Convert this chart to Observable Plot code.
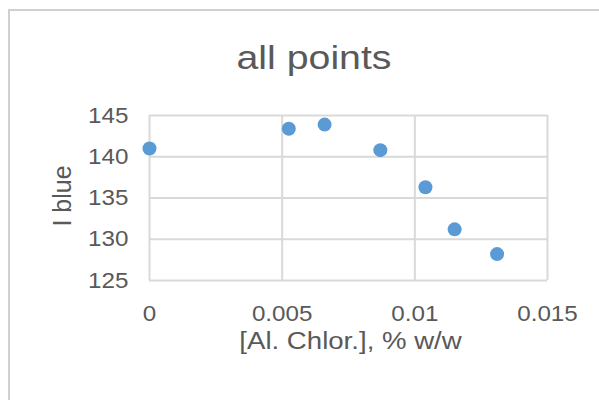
<!DOCTYPE html>
<html>
<head>
<meta charset="utf-8">
<script src="https://cdn.jsdelivr.net/npm/d3@7"></script>
<script src="https://cdn.jsdelivr.net/npm/@observablehq/plot@0.6"></script>
<style>
  body { margin: 0; background: #fff; }
  #chart { position: relative; width: 599px; height: 400px; overflow: hidden;
           font-family: "Liberation Sans", Arial, sans-serif; color: #595959; }
  #frame { position: absolute; left: 8px; top: 9px; width: 620px; height: 420px; z-index: 2;
           pointer-events: none; border-left: 2px solid #d0d0d0; border-top: 2px solid #d0d0d0; }
  #title { position: relative; height: 80px; }
  #title span { position: absolute; left: 313.5px; top: 41px; font-size: 33px; line-height: 33px;
                white-space: nowrap; transform: translateX(-50%) scaleX(1.19); }
</style>
</head>
<body>
<div id="chart">
  <div id="frame"></div>
  <div id="title"><span>all points</span></div>
</div>
<script>
// Aluminium chloride concentration (% w/w) against blue intensity
const concentration = [0, 0.00525, 0.0066, 0.0087, 0.0104, 0.0115, 0.0131];
const blueIntensity = [141.0, 143.4, 143.9, 140.8, 136.3, 131.2, 128.2];

const xTicks = [0, 0.005, 0.01, 0.015];
const xTickLabels = ["0", "0.005", "0.01", "0.015"];
const yTicks = [125, 130, 135, 140, 145];
const yTickLabels = ["125", "130", "135", "140", "145"];

const xLabel = "[Al. Chlor.], % w/w";
const yLabel = "I blue";

const points = concentration.map((c, i) => ({c, v: blueIntensity[i]}));

const svg = Plot.plot({
  width: 599,
  height: 320,
  marginLeft: 149,
  marginRight: 52,
  marginTop: 35,
  marginBottom: 120,
  style: {fontFamily: "'Liberation Sans', Arial, sans-serif", fontSize: "22px", color: "#595959", background: "transparent"},
  x: {domain: [0, 0.015], ticks: xTicks, tickFormat: (d) => xTickLabels[xTicks.indexOf(d)],
      tickSize: 0, tickPadding: 25, label: null},
  y: {domain: [125, 145], ticks: yTicks, tickFormat: (d) => yTickLabels[yTicks.indexOf(d)],
      tickSize: 0, tickPadding: 21, label: null},
  marks: [
    Plot.ruleX(xTicks, {stroke: "#d9d9d9", strokeWidth: 2}),
    Plot.ruleY(yTicks, {stroke: "#d9d9d9", strokeWidth: 2}),
    Plot.dot(points, {x: "c", y: "v", r: 7, fill: "#5b9bd5", stroke: "none"}),
    Plot.text([xLabel], {frameAnchor: "bottom", textAnchor: "middle", lineAnchor: "middle",
                         dx: 2, dy: 61, fontSize: 23, fill: "#595959"}),
    Plot.text([yLabel], {frameAnchor: "left", textAnchor: "middle", lineAnchor: "middle", rotate: -90,
                         dx: -87, dy: -2, fontSize: 25, fill: "#595959"})
  ]
});

document.getElementById("chart").appendChild(svg);

// Widen the horizontal labels slightly, keeping each label's anchor in place
svg.querySelectorAll("text").forEach(t => {
  const tr = t.getAttribute("transform") || "";
  if (tr.includes("rotate")) return;
  const k = t.textContent === xLabel ? 1.2 : 1.1;
  const len = t.getComputedTextLength();
  if (len > 0) {
    t.setAttribute("textLength", len * k);
    t.setAttribute("lengthAdjust", "spacingAndGlyphs");
  }
});
</script>
</body>
</html>
